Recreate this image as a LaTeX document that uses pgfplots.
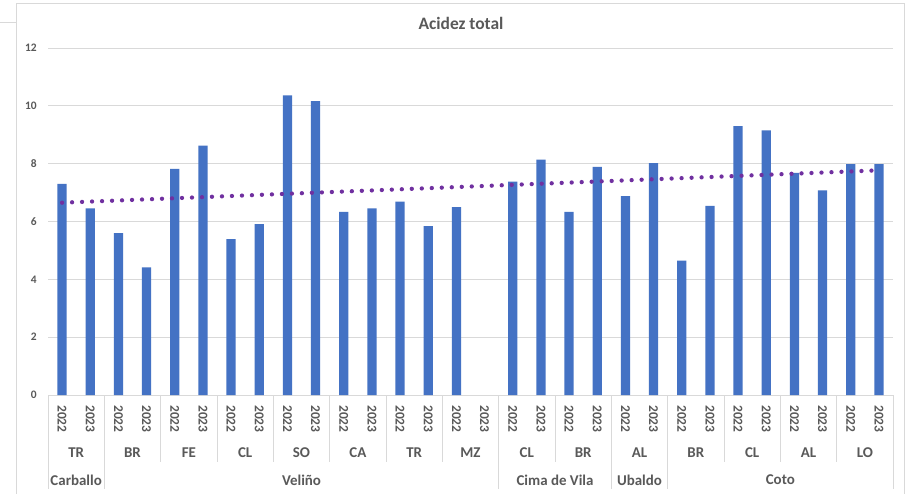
\documentclass[border=0pt]{standalone}
\usepackage{fontspec}
\setmainfont{Carlito}
\usepackage{pgfplots}
\pgfplotsset{compat=1.18}
\definecolor{barblue}{HTML}{4472C4}
\definecolor{trend}{HTML}{7030A0}
\definecolor{txt}{HTML}{595959}
\definecolor{gridc}{HTML}{D9D9D9}

\newcommand{\sep}[2]{\draw[gridc, line width=0.9bp] (axis cs:#1,0) -- ([yshift=-#2]axis cs:#1,0);}

\begin{document}
\begin{tikzpicture}
\useasboundingbox (0bp,0bp) rectangle (910bp,494bp);
\fill[white] (0bp,0bp) rectangle (910bp,494bp);
% spreadsheet frame around the chart
\draw[gridc, line width=0.8bp] (0bp,472bp) -- (16.5bp,472bp);
\draw[gridc, line width=0.8bp] (16.5bp,-5bp) rectangle (904bp,491bp);
\node[font=\bfseries\fontsize{17.5}{20}\selectfont, text=txt] at (461bp,471bp) {Acidez total};

\begin{axis}[
  at={(48bp,99bp)}, anchor=south west,
  scale only axis, width=845bp, height=347bp,
  xmin=0.5, xmax=30.5, ymin=0, ymax=12,
  ytick={0,2,...,12},
  xtick={1,...,30},
  xticklabels={2022,2023,2022,2023,2022,2023,2022,2023,2022,2023,
               2022,2023,2022,2023,2022,2023,2022,2023,2022,2023,
               2022,2023,2022,2023,2022,2023,2022,2023,2022,2023},
  axis line style={draw=none},
  tick style={draw=none},
  ymajorgrids,
  major grid style={gridc, line width=0.9bp},
  /pgf/number format/assume math mode=true,
  yticklabel style={font=\bfseries\fontsize{11.5}{12}\selectfont, text=txt, inner sep=0pt, anchor=east},
  yticklabel shift=11bp,
  xticklabel style={font=\bfseries\fontsize{13.5}{14}\selectfont, text=txt, inner sep=0pt, rotate=-90, anchor=west},
  xticklabel shift=10bp,
  clip=false,
]
\addplot[ybar, bar width=0.33, fill=barblue, draw=none] coordinates {
  (1,7.30) (2,6.45) (3,5.60) (4,4.41) (5,7.82) (6,8.62) (7,5.39) (8,5.91)
  (9,10.36) (10,10.16) (11,6.33) (12,6.45) (13,6.69) (14,5.84) (15,6.50)
  (17,7.38) (18,8.14) (19,6.33) (20,7.89) (21,6.88) (22,8.02)
  (23,4.65) (24,6.54) (25,9.30) (26,9.15) (27,7.68) (28,7.08) (29,7.98) (30,7.98)
};
% linear trend line (endpoints)
\addplot[sharp plot, no marks, trend, line width=4.3bp, line cap=round,
  dash pattern=on 0bp off 10bp] coordinates {(1,6.65) (30,7.77)};

% category separators
\sep{4.5}{67bp} \sep{6.5}{67bp} \sep{8.5}{67bp} \sep{10.5}{67bp}
\sep{12.5}{67bp} \sep{14.5}{67bp} \sep{18.5}{67bp} \sep{24.5}{67bp}
\sep{26.5}{67bp} \sep{28.5}{67bp}
\sep{0.5}{94bp} \sep{2.5}{94bp} \sep{16.5}{94bp} \sep{20.5}{94bp}
\sep{22.5}{94bp} \sep{30.5}{94bp}

% second level labels
\tikzset{lab2/.style={font=\bfseries\fontsize{15}{16}\selectfont, text=txt, yshift=-58bp}}
\node[lab2] at (axis cs:1.5,0) {TR};
\node[lab2] at (axis cs:3.5,0) {BR};
\node[lab2] at (axis cs:5.5,0) {FE};
\node[lab2] at (axis cs:7.5,0) {CL};
\node[lab2] at (axis cs:9.5,0) {SO};
\node[lab2] at (axis cs:11.5,0) {CA};
\node[lab2] at (axis cs:13.5,0) {TR};
\node[lab2] at (axis cs:15.5,0) {MZ};
\node[lab2] at (axis cs:17.5,0) {CL};
\node[lab2] at (axis cs:19.5,0) {BR};
\node[lab2] at (axis cs:21.5,0) {AL};
\node[lab2] at (axis cs:23.5,0) {BR};
\node[lab2] at (axis cs:25.5,0) {CL};
\node[lab2] at (axis cs:27.5,0) {AL};
\node[lab2] at (axis cs:29.5,0) {LO};

% third level labels
\tikzset{lab3/.style={font=\bfseries\fontsize{15}{16}\selectfont, text=txt, yshift=-85bp}}
\node[lab3] at (axis cs:1.5,0) {Carballo};
\node[lab3] at (axis cs:9.5,0) {Veliño};
\node[lab3] at (axis cs:18.5,0) {Cima de Vila};
\node[lab3] at (axis cs:21.5,0) {Ubaldo};
\node[lab3] at (axis cs:26.5,0) {Coto};
\end{axis}
\end{tikzpicture}
\end{document}
